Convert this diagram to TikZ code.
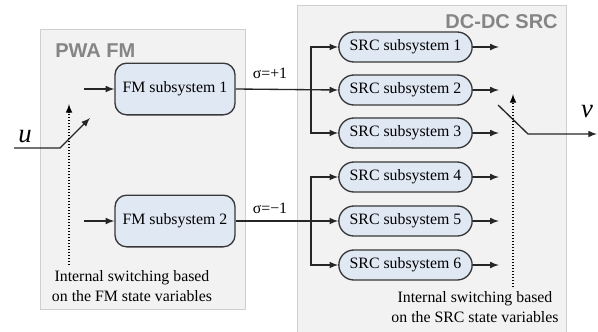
\documentclass[tikz,border=0pt]{standalone}
\usepackage{fontspec}
\setmainfont{Liberation Serif}
\newfontfamily\titlefont{Liberation Sans}
\usetikzlibrary{arrows}
\definecolor{panelfill}{HTML}{F2F2F2}
\definecolor{paneledge}{HTML}{CFCFCF}
\definecolor{blockfill}{HTML}{E0E8F4}
\definecolor{blockedge}{HTML}{383838}
\definecolor{titlegray}{HTML}{858585}
\begin{document}
\begin{tikzpicture}[x=0.6pt,y=-0.6pt,
  panel/.style={fill=panelfill,draw=paneledge,line width=0.6pt},
  paneltitle/.style={font=\titlefont\bfseries\fontsize{12}{14}\selectfont,text=titlegray,inner sep=0pt},
  fmblock/.style={draw=blockedge,fill=blockfill,thick,rounded corners=7pt,minimum width=72pt,minimum height=31pt,inner sep=1pt,font=\rmfamily\fontsize{9.5}{11}\selectfont},
  srcblock/.style={draw=blockedge,fill=blockfill,thick,rounded corners=9pt,minimum width=80pt,minimum height=18pt,inner sep=1pt,font=\rmfamily\fontsize{9.5}{11}\selectfont},
  note/.style={align=center,font=\rmfamily\fontsize{9.5}{11.5}\selectfont,inner sep=0pt},
  sig/.style={font=\rmfamily\fontsize{9.5}{11}\selectfont,inner sep=0pt},
  iolabel/.style={font=\rmfamily\itshape\fontsize{16}{16}\selectfont,inner sep=0pt},
  wire/.style={thick,draw=black!85},
  swline/.style={thick,densely dotted}]
\useasboundingbox (0,0) rectangle (598,331);
% panels
\draw[panel] (40,29) rectangle (245,309);
\draw[panel] (297,5) rectangle (566,333);
\node[paneltitle,anchor=west] (T1) at (55,51) {PWA FM};
\node[paneltitle,anchor=east] (T2) at (558,22) {DC-DC SRC};
% FM blocks
\node[fmblock] (FM1) at (175,89) {FM subsystem 1};
\node[fmblock] (FM2) at (175,221) {FM subsystem 2};
% SRC blocks
\foreach \i/\y in {1/47,2/90,3/133,4/177,5/221,6/265}
  \node[srcblock] (S\i) at (405.5,\y) {SRC subsystem \i};
% input switch
\coordinate (A1) at (84,89);
\coordinate (A2) at (84,221);
\coordinate (U0) at (14,148);
\coordinate (U1) at (60,148);
\coordinate (U2) at (90,118);
\node[iolabel] (U) at (25,137) {u};
\draw[->,>=latex,wire] (A1) -- (FM1);
\draw[->,>=latex,wire] (A2) -- (FM2);
\draw[->,>=latex,wire] (U0) -- (U1) -- (U2);
\coordinate (D1a) at (69,265);
\coordinate (D1b) at (69,104);
\draw[->,>=latex,swline] (D1a) -- (D1b);
\node[note] (N1) at (132,286) {Internal switching based\\on the FM state variables};
% sigma branches
\node[sig] (G1) at (270,73) {σ=+1};
\node[sig] (G2) at (270,208) {σ=−1};
\coordinate (B1) at (311,89);
\coordinate (B2) at (311,221);
\draw[->,>=latex,wire] (FM1.east) -- (S2.west);
\draw[->,>=latex,wire] (FM2.east) -- (S5.west);
\draw[->,>=latex,wire] (B1) |- (S1.west);
\draw[->,>=latex,wire] (B1) |- (S3.west);
\draw[->,>=latex,wire] (B2) |- (S4.west);
\draw[->,>=latex,wire] (B2) |- (S6.west);
% outputs
\foreach \i in {1,...,6}
  \draw[->,>=latex,wire] (S\i.east) -- ++(26,0) coordinate (O\i);
% output switch
\coordinate (V0) at (498,105);
\coordinate (V1) at (528,134);
\coordinate (V2) at (597,134);
\draw[->,>=latex,wire] (V0) -- (V1) -- (V2);
\node[iolabel] (V) at (587,112) {v};
\coordinate (D2a) at (513,287);
\coordinate (D2b) at (513,94);
\draw[->,>=latex,swline] (D2a) -- (D2b);
\node[note] (N2) at (475,307) {Internal switching based\\on the SRC state variables};
\end{tikzpicture}
\end{document}
